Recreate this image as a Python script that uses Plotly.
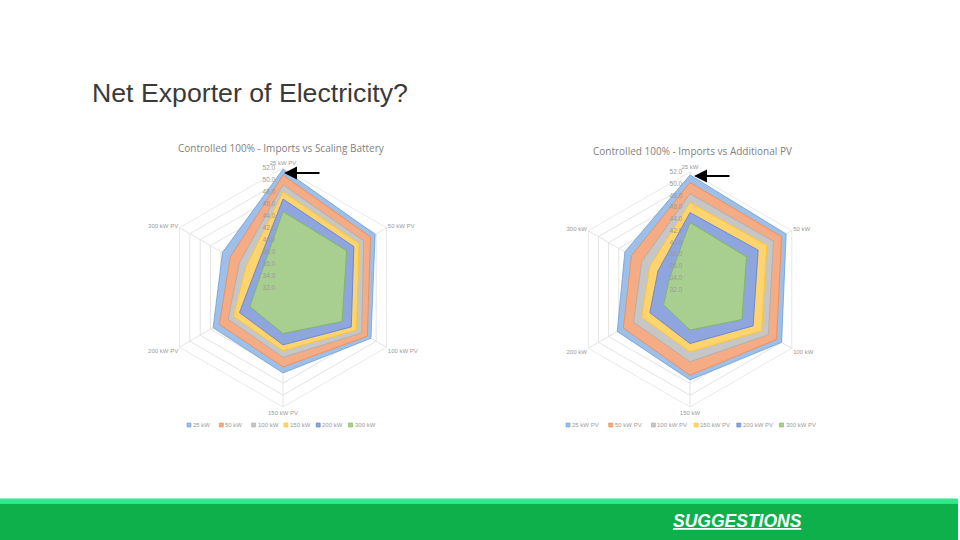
import plotly.graph_objects as go

# ---------------- data ----------------
categories_battery = ["25 kW PV", "50 kW PV", "100 kW PV", "150 kW PV", "200 kW PV", "300 kW PV"]
series_battery = ["25 kW", "50 kW", "100 kW", "150 kW", "200 kW", "300 kW"]
battery_25kw = [51.8, 49.8, 49.0, 46.3, 45.5, 43.7]
battery_50kw = [50.8, 48.9, 48.3, 45.3, 44.3, 42.2]
battery_100kw = [49.2, 47.6, 47.2, 43.7, 42.6, 40.4]
battery_150kw = [48.0, 46.7, 46.2, 42.6, 41.6, 39.1]
battery_200kw = [46.8, 45.7, 45.2, 41.6, 40.4, 37.4]
battery_300kw = [44.7, 44.3, 43.4, 39.7, 38.4, 36.3]

categories_pv = ["25 kW", "50 kW", "100 kW", "150 kW", "200 kW", "300 kW"]
series_pv = ["25 kW PV", "50 kW PV", "100 kW PV", "150 kW PV", "200 kW PV", "300 kW PV"]
pv_25kw = [51.5, 50.9, 50.0, 47.4, 46.3, 44.8]
pv_50kw = [50.2, 50.0, 49.0, 46.6, 45.1, 43.5]
pv_100kw = [48.3, 48.4, 47.4, 44.3, 43.1, 41.5]
pv_150kw = [46.8, 47.1, 46.1, 42.6, 41.5, 39.9]
pv_200kw = [45.1, 45.4, 44.4, 41.2, 39.9, 38.3]
pv_300kw = [43.4, 43.1, 42.2, 38.9, 37.2, 36.0]

radial_ticks = [32, 34, 36, 38, 40, 42, 44, 46, 48, 50, 52]

fill_colors = ["#9DBFE8", "#F5AC85", "#C6C6C6", "#FFD46F", "#8FA5DE", "#A9CF90"]
line_colors = ["#6C9FD8", "#EE8A52", "#ABABAB", "#FFC423", "#5A7FCB", "#7DB55A"]

W, H = 960, 540

fig = go.Figure()

battery_series = [battery_25kw, battery_50kw, battery_100kw, battery_150kw, battery_200kw, battery_300kw]
pv_series = [pv_25kw, pv_50kw, pv_100kw, pv_150kw, pv_200kw, pv_300kw]

for name, vals, fc, lc in zip(series_battery, battery_series, fill_colors, line_colors):
    fig.add_trace(go.Scatterpolar(
        r=vals + vals[:1], theta=categories_battery + categories_battery[:1],
        name=name, fill="toself", fillcolor=fc, mode="lines",
        line=dict(color=lc, width=0.8), subplot="polar", showlegend=False,
        hoverinfo="skip"))

for name, vals, fc, lc in zip(series_pv, pv_series, fill_colors, line_colors):
    fig.add_trace(go.Scatterpolar(
        r=vals + vals[:1], theta=categories_pv + categories_pv[:1],
        name=name, fill="toself", fillcolor=fc, mode="lines",
        line=dict(color=lc, width=0.8), subplot="polar2", showlegend=False,
        hoverinfo="skip"))


def px_dom(cx, cy, rad):
    return dict(x=[(cx - rad) / W, (cx + rad) / W], y=[1 - (cy + rad) / H, 1 - (cy - rad) / H])


tick_font = dict(family="Liberation Sans, Arial", size=6.5, color="#9A9A9A")
cat_font = dict(family="Liberation Sans, Arial", size=6, color="#9A9A9A")
grid_c = "#E3E3E3"


def polar_cfg(dom):
    return dict(
        domain=dom,
        bgcolor="rgba(0,0,0,0)",
        gridshape="linear",
        radialaxis=dict(range=[32, 52], tickvals=radial_ticks, tickformat=".1f", ticksuffix="%",
                        angle=90, tickangle=90, side="counterclockwise", showline=False,
                        gridcolor=grid_c, gridwidth=0.8, tickfont=tick_font,
                        ticks="outside", ticklen=5, tickcolor="rgba(0,0,0,0)"),
        angularaxis=dict(rotation=90, direction="clockwise", gridcolor=grid_c, gridwidth=0.8,
                         linecolor=grid_c, linewidth=0.8, tickfont=cat_font, ticks=""),
    )


fig.update_layout(
    width=W, height=H, autosize=False,
    margin=dict(l=0, r=0, t=0, b=0),
    paper_bgcolor="white", plot_bgcolor="white",
    polar=polar_cfg(px_dom(283, 287.5, 119.5)),
    polar2=polar_cfg(px_dom(690, 289.5, 117.5)),
    showlegend=False,
)

# legends (Excel-style compact legend rows under each chart)
legend_font = dict(family="Liberation Sans, Arial", size=6, color="#9A9A9A")
for names, x_start, step in [(series_battery, 189, 32.3), (series_pv, 568, 42.7)]:
    for i, (name, fc, lc) in enumerate(zip(names, fill_colors, line_colors)):
        sx = x_start + i * step
        sy = 425
        fig.add_shape(type="rect", xref="paper", yref="paper",
                      x0=(sx - 2) / W, x1=(sx + 2) / W, y0=1 - (sy + 2) / H, y1=1 - (sy - 2) / H,
                      fillcolor=fc, line=dict(color=lc, width=0.6))
        fig.add_annotation(text=name, xref="paper", yref="paper", x=(sx + 3) / W, y=1 - sy / H,
                           xanchor="left", yanchor="middle", showarrow=False, font=legend_font,
                           borderpad=0)

# slide background bar
fig.add_shape(type="rect", xref="paper", yref="paper", x0=0, x1=958 / W, y0=1 - 503.5 / H, y1=1 - 498.5 / H,
              fillcolor="#2FEA8C", line_width=0, layer="above")
fig.add_shape(type="rect", xref="paper", yref="paper", x0=0, x1=958 / W, y0=0, y1=1 - 503.5 / H,
              fillcolor="#0DB04B", line_width=0, layer="above")

# titles
fig.add_annotation(text="Net Exporter of Electricity?", xref="paper", yref="paper",
                   x=90 / W, y=1 - 93 / H, xanchor="left", yanchor="middle", showarrow=False,
                   font=dict(family="Liberation Sans, Arial", size=26.7, color="#3A3A3A"))
fig.add_annotation(text="Controlled 100% - Imports vs Scaling Battery", xref="paper", yref="paper",
                   x=281 / W, y=1 - 148 / H, xanchor="center", yanchor="middle", showarrow=False,
                   font=dict(family="Open Sans, Liberation Sans", size=10, color="#7F7F7F"))
fig.add_annotation(text="Controlled 100% - Imports vs Additional PV", xref="paper", yref="paper",
                   x=692 / W, y=1 - 151 / H, xanchor="center", yanchor="middle", showarrow=False,
                   font=dict(family="Open Sans, Liberation Sans", size=10, color="#7F7F7F"))
fig.add_annotation(text="<b><i><u>SUGGESTIONS</u></i></b>", xref="paper", yref="paper",
                   x=671 / W, y=1 - 521 / H, xanchor="left", yanchor="middle", showarrow=False,
                   font=dict(family="Liberation Sans, Arial", size=17.5, color="white"))

# arrows pointing at the top vertex
for tip_x, tip_y, tail_x in [(284, 173, 321), (694, 176, 731)]:
    fig.add_annotation(x=tip_x / W, y=1 - tip_y / H, xref="paper", yref="paper",
                       ax=tail_x - tip_x, ay=0, axref="pixel", ayref="pixel",
                       showarrow=True, arrowhead=2, arrowsize=1.3, arrowwidth=2,
                       arrowcolor="black", text="")

fig.write_html("out.html", config={"displayModeBar": False},
               post_script="document.body.style.margin='0px';")
